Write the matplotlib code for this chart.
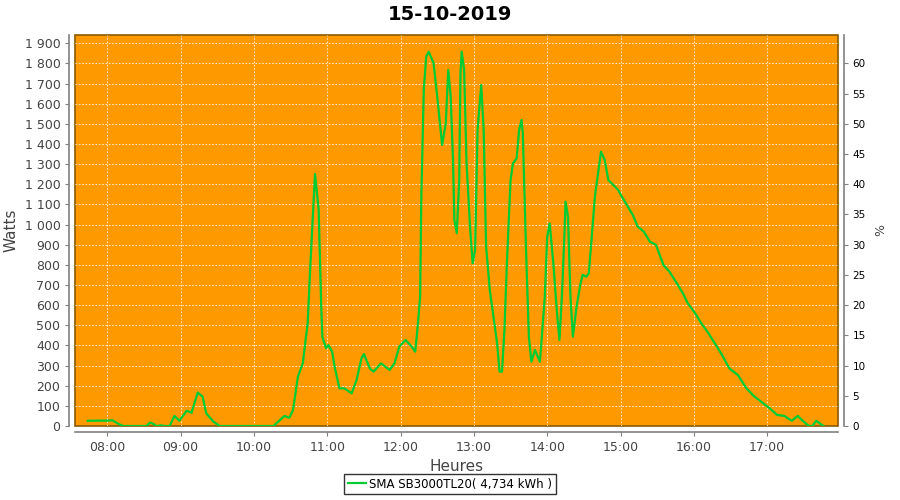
import matplotlib
matplotlib.use("Agg")
import matplotlib.pyplot as plt
from matplotlib.ticker import FuncFormatter, MultipleLocator

# heure de mesure et puissance (W)
times = [
    "07:44", "08:02", "08:04", "08:06", "08:10", "08:13", "08:32", "08:35", "08:38", "08:40",
    "08:44", "08:47", "08:51", "08:55", "08:59", "09:05", "09:09", "09:14", "09:18", "09:21",
    "09:27", "09:32", "10:16", "10:25", "10:29", "10:32", "10:36", "10:40", "10:44", "10:46",
    "10:49", "10:50", "10:53", "10:55", "10:56", "10:59", "11:01", "11:04", "11:06", "11:10",
    "11:14", "11:20", "11:24", "11:28", "11:30", "11:35", "11:38", "11:44", "11:51", "11:55",
    "11:59", "12:04", "12:08", "12:12", "12:14", "12:16", "12:17", "12:19", "12:21", "12:23",
    "12:27", "12:30", "12:34", "12:37", "12:39", "12:41", "12:43", "12:44", "12:46", "12:48",
    "12:49", "12:50", "12:52", "12:54", "12:57", "12:59", "13:01", "13:03", "13:06", "13:08",
    "13:10", "13:13", "13:16", "13:19", "13:21", "13:23", "13:25", "13:27", "13:30", "13:32",
    "13:35", "13:37", "13:39", "13:40", "13:43", "13:45", "13:47", "13:50", "13:54", "13:55",
    "13:58", "14:00", "14:02", "14:05", "14:08", "14:10", "14:12", "14:14", "14:15", "14:17",
    "14:19", "14:21", "14:24", "14:27", "14:29", "14:32", "14:34", "14:36", "14:39", "14:42",
    "14:44", "14:47", "14:50", "14:54", "14:58", "15:01", "15:06", "15:10", "15:14", "15:19",
    "15:24", "15:29", "15:35", "15:40", "15:46", "15:51", "15:55", "16:01", "16:06", "16:12",
    "16:17", "16:23", "16:29", "16:36", "16:43", "16:49", "16:55", "17:02", "17:08", "17:14",
    "17:20", "17:25", "17:29", "17:34", "17:37", "17:40", "17:43", "17:46",
]
watts = [
    26, 27, 29, 22, 8, 0, 0, 17, 10, 0,
    3, 0, 0, 50, 26, 76, 66, 166, 146, 63,
    21, 0, 0, 50, 41, 79, 245, 311, 510, 775,
    1139, 1251, 1072, 609, 443, 386, 402, 369, 295, 187,
    187, 162, 228, 336, 357, 284, 270, 311, 278, 311,
    394, 427, 402, 369, 493, 642, 1139, 1668, 1834, 1858,
    1801, 1635, 1395, 1503, 1768, 1635, 1304, 1023, 957, 1221,
    1751, 1858, 1768, 1304, 973, 808, 874, 1470, 1693, 1470,
    890, 675, 543, 411, 270, 270, 477, 808, 1221, 1304,
    1329, 1470, 1519, 1453, 808, 443, 319, 377, 319, 394,
    642, 940, 1006, 808, 560, 427, 642, 940, 1114, 1039,
    642, 443, 592, 700, 750, 741, 758, 907, 1139, 1271,
    1362, 1321, 1221, 1197, 1172, 1139, 1089, 1048, 990, 965,
    915, 899, 800, 766, 709, 659, 609, 560, 510, 460,
    411, 353, 286, 253, 187, 149, 121, 88, 55, 50,
    26, 50, 26, 0, 0, 26, 13, 0,
]

hour_ticks = [8, 9, 10, 11, 12, 13, 14, 15, 16, 17]
hour_labels = ["08:00", "09:00", "10:00", "11:00", "12:00",
               "13:00", "14:00", "15:00", "16:00", "17:00"]

peak_power = 3000
legend_label = "SMA SB3000TL20( 4,734 kWh )"


def to_hours(t):
    h, m = t.split(":")
    return int(h) + int(m) / 60


hours = [to_hours(t) for t in times]

plt.rcParams["font.family"] = "DejaVu Sans"
axis_grey = "#808080"

fig = plt.figure(figsize=(9, 5), dpi=100)
ax = fig.add_axes([0.0833, 0.148, 0.8478, 0.782])
ax.set_facecolor("#FF9900")

ax.plot(hours, watts, color="#00CC33", linewidth=1.6, label=legend_label)

ax.set_xlim(7.56, 17.965)
ax.set_ylim(0, 1941)
ax.yaxis.set_major_locator(MultipleLocator(100))
ax.yaxis.set_major_formatter(
    FuncFormatter(lambda v, p: f"{int(v):,}".replace(",", " "))
)
ax.set_xticks(hour_ticks)
ax.set_xticklabels(hour_labels)

ax.grid(True, color="white", linestyle=(0, (2, 2)), linewidth=0.6, alpha=0.9)
ax.set_axisbelow(True)

ax2 = ax.twinx()
ax2.set_ylim(0, 1941 / peak_power * 100)
ax2.yaxis.set_major_locator(MultipleLocator(5))

for a in (ax, ax2):
    for s in a.spines.values():
        s.set_visible(False)
    a.tick_params(colors=axis_grey, labelcolor="#444444", labelsize=9, length=3)

ax2.tick_params(labelcolor="black", labelsize=7.5)

ax.spines["left"].set_visible(True)
ax.spines["left"].set_position(("outward", 4))
ax.spines["bottom"].set_visible(True)
ax.spines["bottom"].set_position(("outward", 4))
ax2.spines["right"].set_visible(True)
ax2.spines["right"].set_position(("outward", 4))
for s in (ax.spines["left"], ax.spines["bottom"], ax2.spines["right"]):
    s.set_color(axis_grey)
    s.set_linewidth(1.2)

# cadre de la zone de tracé
ax.patch.set_edgecolor("#8a5a00")
ax.patch.set_linewidth(1.2)

ax.set_xlabel("Heures", fontsize=11, color="#444444", labelpad=4)
ax.set_ylabel("Watts", fontsize=11, color="#444444", labelpad=4)
ax2.set_ylabel("%", fontsize=9, color="#444444", labelpad=6)

fig.suptitle("15-10-2019", fontsize=14, fontweight="bold", y=0.99)

fig.legend(loc="lower center", bbox_to_anchor=(0.5, 0.0), fontsize=8.5,
           frameon=True, fancybox=False, edgecolor="black",
           handlelength=1.5, borderpad=0.3, handletextpad=0.3)

fig.savefig("out.png", dpi=100)
